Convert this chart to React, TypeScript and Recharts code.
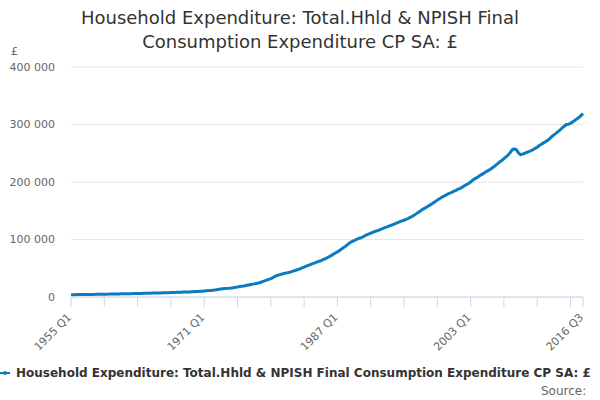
import React from "react"
import {
  LineChart,
  Line,
  XAxis,
  YAxis,
  CartesianGrid,
} from "recharts"

const seriesName =
  "Household Expenditure: Total.Hhld & NPISH Final Consumption Expenditure CP SA: £"

const firstYear = 1955

// quarterly values, one row per year (Q1..Q4)
const quarterlyValues: number[] = [
  4000, 4050, 4100, 4150,
  4200, 4250, 4300, 4350,
  4400, 4450, 4500, 4560,
  4620, 4680, 4740, 4800,
  4860, 4920, 5000, 5080,
  5150, 5220, 5300, 5380,
  5450, 5520, 5600, 5680,
  5750, 5830, 5910, 6000,
  6080, 6160, 6250, 6350,
  6450, 6550, 6650, 6750,
  6850, 6950, 7050, 7150,
  7250, 7350, 7450, 7550,
  7700, 7800, 7950, 8100,
  8250, 8350, 8500, 8600,
  8750, 8900, 9050, 9200,
  9400, 9650, 9900, 10200,
  10500, 10800, 11100, 11500,
  11900, 12300, 12800, 13300,
  13800, 14200, 14600, 15000,
  15300, 15700, 16200, 16800,
  17400, 18100, 18700, 19300,
  20000, 20700, 21400, 22100,
  22800, 23600, 24400, 25300,
  26800, 28000, 29300, 30600,
  32000, 33500, 36000, 37500,
  38500, 39500, 40500, 41500,
  42000, 43000, 44200, 45500,
  46500, 47800, 49000, 50500,
  52000, 53500, 55000, 56500,
  58000, 59000, 60500, 62000,
  63000, 65000, 66500, 68000,
  70000, 72000, 74500, 76500,
  78500, 81000, 83500, 86000,
  88500, 91500, 94500, 96500,
  98000, 100000, 101500, 102500,
  104000, 106000, 108000, 109500,
  111000, 112500, 114000, 115000,
  116500, 118000, 119500, 121000,
  122000, 123500, 125000, 126500,
  128000, 129500, 131000, 132500,
  133500, 135000, 136500, 138500,
  140500, 142500, 145000, 147500,
  150000, 152500, 154500, 156500,
  159000, 161000, 163500, 166000,
  168500, 171000, 173000, 175000,
  177000, 179000, 180500, 182000,
  184000, 185500, 187500, 189000,
  191000, 193500, 195500, 197500,
  200000, 203000, 205500, 207500,
  210000, 212500, 214500, 217000,
  219000, 221000, 223500, 226000,
  229000, 232000, 235000, 237500,
  240500, 243500, 247000, 251000,
  256000, 257500, 256000, 250500,
  247500, 248500, 250000, 251500,
  253000, 254500, 256000, 258500,
  260500, 263500, 265500, 268000,
  270000, 272500, 275500, 279000,
  282000, 284500, 287500, 290500,
  294000, 297000, 300000, 300500,
  302000, 304500, 307000, 309500,
  312000, 315500, 319000,
]

const yTicks = [0, 100000, 200000, 300000, 400000]
const labelledQuarters = ["1955 Q1", "1971 Q1", "1987 Q1", "2003 Q1", "2016 Q3"]

const data = quarterlyValues.map((value, i) => ({
  idx: i,
  quarter: `${firstYear + Math.floor(i / 4)} Q${(i % 4) + 1}`,
  value,
}))

const lastIdx = data.length - 1
const xTicks: number[] = []
for (let i = 0; i < lastIdx; i += 16) xTicks.push(i)
xTicks.push(lastIdx)

const blue = "#0b7bc1"
const font = "'DejaVu Sans', sans-serif"

const formatThousands = (v: number) =>
  v.toString().replace(/\B(?=(\d{3})+(?!\d))/g, " ")

function QuarterTick(props: any) {
  const { x, y, payload } = props
  const label = data[payload.value]?.quarter
  if (!labelledQuarters.includes(label)) return null
  const ax = x + 1
  const ay = y + 9
  return (
    <text
      x={ax}
      y={ay}
      transform={`rotate(-45, ${ax}, ${ay})`}
      textAnchor="end"
      fill="#666"
      fontSize={11}
      fontFamily={font}
    >
      {label}
    </text>
  )
}

export default function App() {
  return (
    <div
      style={{
        position: "fixed",
        left: 0,
        top: 0,
        width: 600,
        height: 400,
        overflow: "hidden",
        background: "#fff",
        fontFamily: font,
      }}
    >
      <div
        style={{
          position: "absolute",
          top: 6,
          left: 0,
          width: 600,
          textAlign: "center",
          fontSize: 18,
          lineHeight: "24px",
          color: "#333",
        }}
      >
        Household Expenditure: Total.Hhld &amp; NPISH Final
        <br />
        Consumption Expenditure CP SA: £
      </div>
      <div style={{ position: "absolute", top: 45, left: 11, fontSize: 11, color: "#666" }}>£</div>

      <LineChart
        width={600}
        height={400}
        data={data}
        margin={{ top: 67, right: 17, bottom: 53, left: 0 }}
      >
        <CartesianGrid vertical={false} stroke="#e6e6e6" />
        <XAxis
          dataKey="idx"
          type="number"
          domain={[0, lastIdx]}
          ticks={xTicks}
          interval={0}
          height={50}
          stroke="#ccd6eb"
          tickSize={10}
          tick={<QuarterTick />}
        />
        <YAxis
          type="number"
          domain={[0, 400000]}
          ticks={yTicks}
          width={71}
          axisLine={false}
          tickLine={false}
          tickSize={8}
          tickMargin={8}
          tickFormatter={formatThousands}
          tick={{ fill: "#666", fontSize: 11, fontFamily: font }}
        />
        <Line
          type="linear"
          dataKey="value"
          stroke={blue}
          strokeWidth={3}
          dot={false}
          isAnimationActive={false}
        />
      </LineChart>

      <div
        style={{
          position: "absolute",
          top: 366,
          left: 0,
          width: 600,
          overflow: "hidden",
          whiteSpace: "nowrap",
          fontSize: 12,
          fontWeight: "bold",
          color: "#333",
          display: "flex",
          alignItems: "center",
        }}
      >
        <svg width={14} height={12} style={{ marginRight: 2, flexShrink: 0 }}>
          <line x1={0} y1={6} x2={10} y2={6} stroke={blue} strokeWidth={2} />
          <circle cx={5} cy={6} r={2} fill={blue} />
        </svg>
        {seriesName}
      </div>
      <div style={{ position: "absolute", top: 384, left: 541, fontSize: 12, color: "#666" }}>
        Source:
      </div>
    </div>
  )
}
